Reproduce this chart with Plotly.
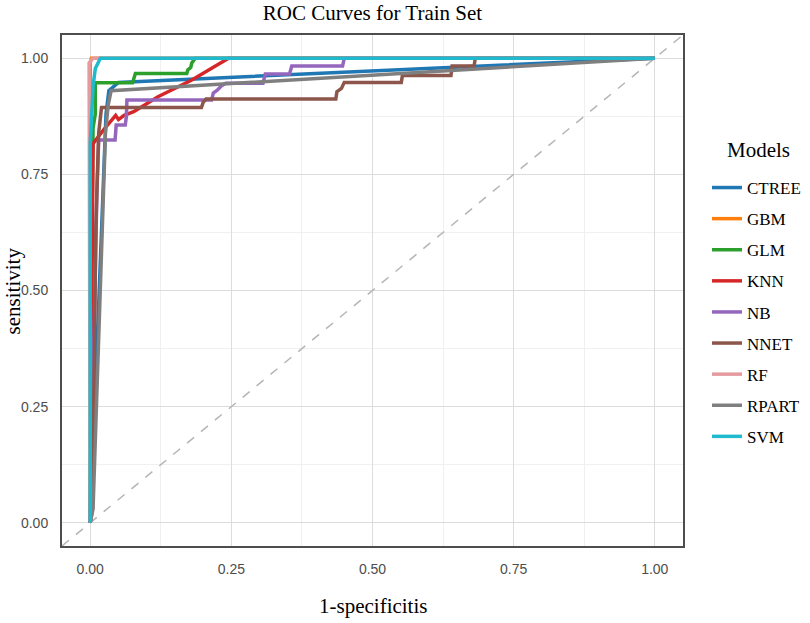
import plotly.graph_objects as go

# ROC points (fpr = 1-specificity, tpr = sensitivity)
models = ["CTREE", "GBM", "GLM", "KNN", "NB", "NNET", "RF", "RPART", "SVM"]
colors = ["#1F77B4", "#FF7F0E", "#2CA02C", "#D62728", "#9467BD",
          "#8C564B", "#E59AA0", "#7F7F7F", "#1FBACD"]

ctree_fpr = [0, 0.028, 0.033, 0.05, 1]
ctree_tpr = [0, 0.88, 0.93, 0.948, 1]

gbm_fpr = [0, 0, 0.002, 1]
gbm_tpr = [0, 0.99, 1, 1]

glm_fpr = [0, 0.002, 0.005, 0.009, 0.009, 0.075, 0.08, 0.171, 0.173, 0.178, 0.18, 0.186, 1]
glm_tpr = [0, 0.5, 0.85, 0.88, 0.947, 0.947, 0.967, 0.967, 0.975, 0.98, 0.99, 1, 1]

knn_fpr = [0, 0.003, 0.005, 0.023, 0.045, 0.05, 0.06, 0.077, 0.12, 0.18, 0.245, 1]
knn_tpr = [0, 0.5, 0.816, 0.845, 0.877, 0.868, 0.877, 0.885, 0.917, 0.953, 1, 1]

nb_fpr = [0, 0.008, 0.012, 0.015, 0.044, 0.046, 0.062, 0.064, 0.065, 0.215, 0.218,
          0.225, 0.232, 0.24, 0.306, 0.31, 0.353, 0.357, 0.447, 0.45, 1]
nb_tpr = [0, 0.5, 0.72, 0.824, 0.824, 0.856, 0.856, 0.874, 0.91, 0.91, 0.925,
          0.931, 0.94, 0.946, 0.946, 0.966, 0.966, 0.983, 0.983, 1, 1]

nnet_fpr = [0, 0.004, 0.01, 0.015, 0.02, 0.197, 0.2, 0.205, 0.435, 0.437, 0.445,
            0.45, 0.551, 0.553, 0.639, 0.641, 0.68, 0.682, 1]
nnet_tpr = [0, 0.03, 0.64, 0.84, 0.894, 0.894, 0.905, 0.912, 0.912, 0.928, 0.935,
            0.948, 0.948, 0.963, 0.963, 0.983, 0.983, 1, 1]

rf_fpr = [0, -0.002, -0.002, 0.005, 1]
rf_tpr = [0, 0.85, 0.99, 1, 1]

rpart_fpr = [0, 0.005, 0.027, 0.032, 0.037, 1]
rpart_tpr = [0, 0.03, 0.84, 0.9, 0.93, 1]

svm_fpr = [0, 0, 0.005, 0.009, 0.018, 1]
svm_tpr = [0, 0.813, 0.94, 0.978, 1, 1]

fpr = [ctree_fpr, gbm_fpr, glm_fpr, knn_fpr, nb_fpr, nnet_fpr, rf_fpr, rpart_fpr, svm_fpr]
tpr = [ctree_tpr, gbm_tpr, glm_tpr, knn_tpr, nb_tpr, nnet_tpr, rf_tpr, rpart_tpr, svm_tpr]

diag = [-0.05, 1.05]
ticks = [0, 0.25, 0.5, 0.75, 1]

serif = "Liberation Serif, Times New Roman, serif"
sans = "Liberation Sans, Arial, sans-serif"

fig = go.Figure()

# chance line
fig.add_trace(go.Scatter(x=diag, y=diag, mode="lines", showlegend=False,
                         line=dict(color="#b5b5b5", width=1.5, dash="dash"),
                         hoverinfo="skip"))

for name, col, xs, ys in zip(models, colors, fpr, tpr):
    fig.add_trace(go.Scatter(x=xs, y=ys, mode="lines", name=name, legendgroup=name,
                             line=dict(color=col, width=3.5)))

axis_common = dict(
    range=[-0.05, 1.05], tickvals=ticks, tickformat=".2f", automargin=False,
    showgrid=True, gridcolor="#dcdcdc", gridwidth=1.3,
    minor=dict(dtick=0.125, tick0=0, showgrid=True, gridcolor="#f0f0f0", gridwidth=0.8),
    zeroline=False, showline=True, mirror=True, linecolor="#4d4d4d", linewidth=2,
    ticks="", ticklabelstandoff=9,
    tickfont=dict(family=sans, size=14, color="#4d4d4d"),
)

fig.update_layout(
    width=810, height=623,
    margin=dict(l=62, r=127, t=35, b=77),
    paper_bgcolor="white", plot_bgcolor="white",
    title=dict(text="ROC Curves for Train Set", x=0.5, xref="paper",
               y=1 - 13 / 623, yanchor="middle",
               font=dict(family=serif, size=21, color="black")),
    xaxis=axis_common, yaxis=axis_common,
    legend=dict(xref="container", yref="container", x=707 / 810, y=1 - 170 / 623,
                xanchor="left", yanchor="top",
                font=dict(family=serif, size=17, color="black"),
                tracegroupgap=6, itemwidth=30, bgcolor="rgba(0,0,0,0)"),
    annotations=[
        dict(text="Models", x=(758 - 62) / 621, y=(546 - 150) / 511,
             xref="paper", yref="paper", xanchor="center", yanchor="middle",
             showarrow=False, font=dict(family=serif, size=21, color="black")),
        dict(text="1-specificitis", x=0.5, y=-0.117, xref="paper", yref="paper",
             xanchor="center", yanchor="middle", showarrow=False,
             font=dict(family=serif, size=21, color="black")),
        dict(text="sensitivity", x=-0.079, y=0.5, xref="paper", yref="paper",
             xanchor="center", yanchor="middle", showarrow=False, textangle=-90,
             font=dict(family=serif, size=21, color="black")),
    ],
    hovermode="closest",
)

# drop the browser's default page margin so the figure sits at the window corner
fig.write_html("out.html", config={"displayModeBar": False},
               post_script="document.body.style.margin='0';")
